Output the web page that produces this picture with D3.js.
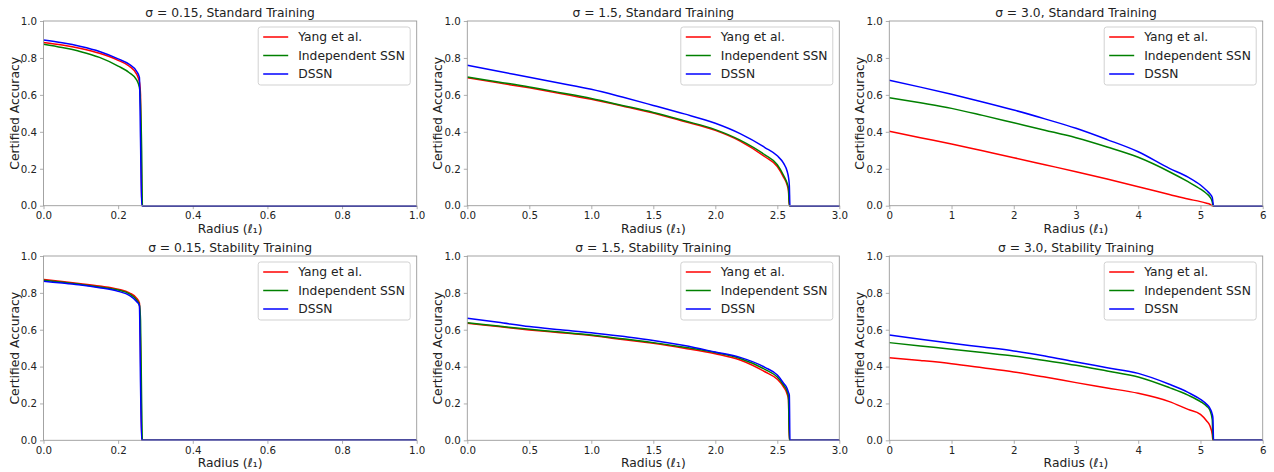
<!DOCTYPE html>
<html>
<head>
<meta charset="utf-8">
<script src="https://cdn.jsdelivr.net/npm/d3@7"></script>
<style>
  body { margin: 0; background: #fff; }
  text { font-family: "DejaVu Sans", sans-serif; }
</style>
</head>
<body>
<div id="chart"></div>
<script>

// Data

var seriesNames = ["Yang et al.", "Independent SSN", "DSSN"];
var seriesColors = ["red", "green", "blue"];

var yTicks = [0, 0.2, 0.4, 0.6, 0.8, 1.0];
var xTicks015 = [0, 0.2, 0.4, 0.6, 0.8, 1.0];
var xTicks15 = [0, 0.5, 1.0, 1.5, 2.0, 2.5, 3.0];
var xTicks30 = [0, 1, 2, 3, 4, 5, 6];

// sigma = 0.15
var r015 = [0, 0.05, 0.1, 0.15, 0.2, 0.23, 0.25, 0.257, 0.26, 0.263, 0.265, 1.0];
var std015_yang  = [0.884, 0.870, 0.851, 0.825, 0.787, 0.755, 0.710, 0.670, 0.600, 0.050, 0, 0];
var std015_indep = [0.874, 0.856, 0.834, 0.803, 0.756, 0.720, 0.680, 0.640, 0.550, 0.300, 0, 0];
var std015_dssn  = [0.897, 0.882, 0.862, 0.835, 0.795, 0.765, 0.726, 0.695, 0.350, 0, 0, 0];
var stab015_yang  = [0.873, 0.862, 0.850, 0.837, 0.820, 0.800, 0.770, 0.745, 0.500, 0, 0, 0];
var stab015_indep = [0.868, 0.857, 0.846, 0.832, 0.815, 0.795, 0.760, 0.735, 0.650, 0.200, 0, 0];
var stab015_dssn  = [0.863, 0.853, 0.843, 0.828, 0.808, 0.787, 0.752, 0.730, 0.300, 0, 0, 0];

// sigma = 1.5
var r15 = [0, 0.25, 0.5, 0.75, 1.0, 1.25, 1.5, 1.75, 2.0, 2.2, 2.4, 2.5, 2.55, 2.58, 2.59, 2.597, 2.602, 3.0];
var std15_yang  = [0.693, 0.665, 0.638, 0.608, 0.576, 0.540, 0.502, 0.456, 0.408, 0.350, 0.265, 0.212, 0.155, 0.110, 0.080, 0, 0, 0];
var std15_indep = [0.697, 0.670, 0.643, 0.612, 0.580, 0.543, 0.505, 0.460, 0.412, 0.355, 0.275, 0.222, 0.165, 0.120, 0.095, 0, 0, 0];
var std15_dssn  = [0.760, 0.728, 0.695, 0.663, 0.630, 0.588, 0.543, 0.497, 0.446, 0.390, 0.315, 0.270, 0.230, 0.185, 0.155, 0.110, 0, 0];
var stab15_yang  = [0.635, 0.617, 0.599, 0.584, 0.568, 0.547, 0.526, 0.500, 0.470, 0.436, 0.372, 0.331, 0.290, 0.250, 0.220, 0, 0, 0];
var stab15_indep = [0.638, 0.620, 0.602, 0.587, 0.571, 0.551, 0.530, 0.505, 0.476, 0.444, 0.385, 0.343, 0.300, 0.265, 0.235, 0, 0, 0];
var stab15_dssn  = [0.662, 0.640, 0.617, 0.600, 0.584, 0.564, 0.542, 0.514, 0.479, 0.450, 0.396, 0.354, 0.310, 0.280, 0.260, 0.245, 0, 0];

// sigma = 3.0
var r30 = [0, 0.5, 1, 1.5, 2, 2.5, 3, 3.5, 4, 4.5, 4.8, 5.0, 5.1, 5.15, 5.19, 5.2, 5.21, 6];
var std30_yang  = [0.403, 0.368, 0.334, 0.297, 0.260, 0.222, 0.184, 0.144, 0.103, 0.061, 0.036, 0.022, 0.013, 0.008, 0, 0, 0, 0];
var std30_indep = [0.585, 0.557, 0.527, 0.489, 0.449, 0.409, 0.368, 0.318, 0.262, 0.184, 0.130, 0.090, 0.065, 0.048, 0.020, 0, 0, 0];
var std30_dssn  = [0.679, 0.642, 0.603, 0.562, 0.518, 0.470, 0.419, 0.358, 0.292, 0.202, 0.155, 0.112, 0.082, 0.065, 0.045, 0.020, 0, 0];
var stab30_yang  = [0.448, 0.433, 0.416, 0.394, 0.371, 0.343, 0.313, 0.284, 0.255, 0.210, 0.168, 0.141, 0.105, 0.080, 0.030, 0, 0, 0];
var stab30_indep = [0.530, 0.512, 0.494, 0.476, 0.458, 0.433, 0.407, 0.376, 0.344, 0.286, 0.245, 0.210, 0.185, 0.165, 0.110, 0, 0, 0];
var stab30_dssn  = [0.571, 0.548, 0.526, 0.506, 0.485, 0.457, 0.425, 0.394, 0.363, 0.304, 0.260, 0.222, 0.195, 0.175, 0.140, 0.120, 0, 0];


// Layout

var W = 1274, H = 472;
var colX = [[43.5, 416.7], [467.3, 839.3], [889.3, 1262.7]];
var rowY = [[21, 205.7], [256, 440.3]];

var panels = [
	{row:0, col:0, title:"σ = 0.15, Standard Training", r:r015, xmax:1, ticks:xTicks015, fmt:".1f", ys:[std015_yang, std015_indep, std015_dssn]},
	{row:0, col:1, title:"σ = 1.5, Standard Training",  r:r15,  xmax:3, ticks:xTicks15,  fmt:".1f", ys:[std15_yang, std15_indep, std15_dssn]},
	{row:0, col:2, title:"σ = 3.0, Standard Training",  r:r30,  xmax:6, ticks:xTicks30,  fmt:"d",   ys:[std30_yang, std30_indep, std30_dssn]},
	{row:1, col:0, title:"σ = 0.15, Stability Training", r:r015, xmax:1, ticks:xTicks015, fmt:".1f", ys:[stab015_yang, stab015_indep, stab015_dssn]},
	{row:1, col:1, title:"σ = 1.5, Stability Training",  r:r15,  xmax:3, ticks:xTicks15,  fmt:".1f", ys:[stab15_yang, stab15_indep, stab15_dssn]},
	{row:1, col:2, title:"σ = 3.0, Stability Training",  r:r30,  xmax:6, ticks:xTicks30,  fmt:"d",   ys:[stab30_yang, stab30_indep, stab30_dssn]}
];

var svg = d3.select("#chart").append("svg")
	.attr("width", W)
	.attr("height", H);

svg.append("rect").attr("width", W).attr("height", H).attr("fill", "white");

var spineColor = "#9a9a9a",
	textColor = "#222";

panels.forEach(function(p){
	var x0 = colX[p.col][0], x1 = colX[p.col][1];
	var y0 = rowY[p.row][0], y1 = rowY[p.row][1];

	var x = d3.scaleLinear().domain([0, p.xmax]).range([x0, x1]);
	var y = d3.scaleLinear().domain([0, 1]).range([y1, y0]);

	var g = svg.append("g");

	// axes
	var xa = g.append("g").attr("transform", "translate(0," + y1 + ")")
		.call(d3.axisBottom(x).tickValues(p.ticks).tickFormat(d3.format(p.fmt)).tickSize(3.5).tickPadding(3));
	var ya = g.append("g").attr("transform", "translate(" + x0 + ",0)")
		.call(d3.axisLeft(y).tickValues(yTicks).tickFormat(d3.format(".1f")).tickSize(3.5).tickPadding(3));
	[xa, ya].forEach(function(a){
		a.select(".domain").remove();
		a.selectAll(".tick line").attr("stroke", spineColor).attr("stroke-width", 0.8);
		a.selectAll(".tick text").attr("fill", textColor).style("font-size", "10.25px").style("font-family", "DejaVu Sans");
	});

	// curves
	var line = d3.line()
		.x(function(d, i){ return x(p.r[i]); })
		.y(function(d){ return y(d); })
		.curve(d3.curveMonotoneX);

	p.ys.forEach(function(vals, k){
		g.append("path").datum(vals).attr("d", line)
			.attr("fill", "none")
			.attr("stroke", seriesColors[k])
			.attr("stroke-width", 1.5)
			.attr("stroke-linejoin", "round");
	});

	// frame
	g.append("rect").attr("x", x0).attr("y", y0).attr("width", x1 - x0).attr("height", y1 - y0)
		.attr("fill", "none").attr("stroke", spineColor).attr("stroke-width", 0.9);

	// title
	g.append("text").attr("x", (x0 + x1) / 2).attr("y", y0 - 4.5)
		.attr("text-anchor", "middle").attr("fill", textColor)
		.style("font-size", "12.3px").text(p.title);

	// axis labels
	var xl = g.append("text").attr("x", (x0 + x1) / 2).attr("y", y1 + 27)
		.attr("text-anchor", "middle").attr("fill", textColor).style("font-size", "12.3px");
	xl.append("tspan").text("Radius (");
	xl.append("tspan").style("font-style", "italic").text("ℓ");
	xl.append("tspan").text("₁)");

	g.append("text")
		.attr("transform", "translate(" + (x0 - 25) + "," + ((y0 + y1) / 2) + ")rotate(-90)")
		.attr("text-anchor", "middle").attr("fill", textColor)
		.style("font-size", "12.3px").text("Certified Accuracy");

	// legend
	var lw = 152, lh = 58;
	var lx = x1 - 6.5 - lw, ly = y0 + 6;
	var lg = g.append("g").attr("transform", "translate(" + lx + "," + ly + ")");
	lg.append("rect").attr("width", lw).attr("height", lh).attr("rx", 2.5)
		.attr("fill", "white").attr("fill-opacity", 0.8)
		.attr("stroke", "#cccccc").attr("stroke-width", 0.9);
	seriesNames.forEach(function(name, k){
		var yy = 10 + k * 18.5;
		lg.append("line").attr("x1", 5).attr("x2", 30).attr("y1", yy).attr("y2", yy)
			.attr("stroke", seriesColors[k]).attr("stroke-width", 1.5);
		lg.append("text").attr("x", 40).attr("y", yy).attr("dy", "0.36em")
			.attr("fill", textColor).style("font-size", "12.3px").text(name);
	});
});

</script>
</body>
</html>
